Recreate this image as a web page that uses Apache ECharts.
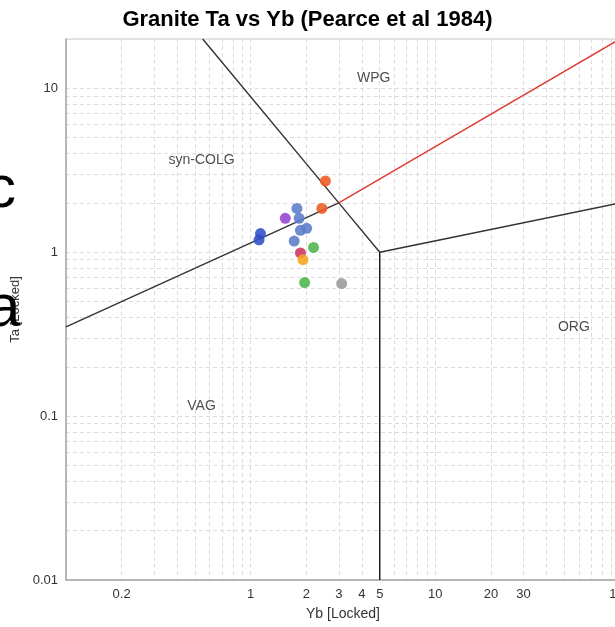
<!DOCTYPE html>
<html>
<head>
<meta charset="utf-8">
<script src="https://cdn.jsdelivr.net/npm/echarts@6/dist/echarts.min.js"></script>
<style>
html,body{margin:0;padding:0;background:#fff;}
#chart{width:615px;height:627px;}
</style>
</head>
<body>
<div id="chart"></div>
<script>
// ---- data ----
const titleText = 'Granite Ta vs Yb (Pearce et al 1984)';
const xName = 'Yb [Locked]';
const yName = 'Ta [Locked]';

const xTickLabels = [0.2, 1, 2, 3, 4, 5, 10, 20, 30, 100];
const yTickLabels = [0.01, 0.1, 1, 10];
const xGridValues = [0.2,0.3,0.4,0.5,0.6,0.7,0.8,0.9,1,2,3,4,5,6,7,8,9,10,20,30,40,50,60,70,80,90,100];
const yGridValues = [0.02,0.03,0.04,0.05,0.06,0.07,0.08,0.09,0.1,0.2,0.3,0.4,0.5,0.6,0.7,0.8,0.9,1,2,3,4,5,6,7,8,9,10,20];

// boundary lines [Yb, Ta]
const lineVAGsynCOLG = [[0.1, 0.35], [3, 2]];
const lineSynCOLGWPG = [[0.55, 20], [3, 2], [5, 1]];
const lineWPGORG = [[5, 1], [100, 2]];
const lineVAGORG = [[5, 1], [5, 0.01]];
const lineRed = [[3, 2], [100, 20]];

// region labels
const regionNames = ['WPG', 'syn-COLG', 'ORG', 'VAG'];
const regionPos = [[4.64, 11.5], [0.542, 3.64], [56.3, 0.348], [0.542, 0.115]];

// samples [Yb, Ta]
const orangeSamples = [[2.54, 2.72], [2.43, 1.85]];
const steelSamples = [[1.78, 1.85], [1.83, 1.61], [1.86, 1.36], [2.01, 1.40], [1.72, 1.17]];
const purpleSamples = [[1.54, 1.61]];
const royalSamples = [[1.13, 1.30], [1.11, 1.19]];
const greenSamples = [[2.19, 1.07], [1.96, 0.653]];
const crimsonSamples = [[1.86, 0.99]];
const amberSamples = [[1.92, 0.90]];
const graySamples = [[3.11, 0.644]];

const chart = echarts.init(document.getElementById('chart'), null, {renderer: 'canvas'});

function boundary(data, color) {
  return {
    type: 'line', data: data, symbol: 'none', silent: true,
    lineStyle: {color: color, width: 1.4}, z: 3, animation: false
  };
}
function samples(data, color) {
  return {
    type: 'scatter', data: data, symbolSize: 11, z: 5,
    itemStyle: {color: color, opacity: 0.88}, animation: false
  };
}

const gridLineStyle = {color: '#dcdcdc', type: [4, 3], width: 1};

chart.setOption({
  backgroundColor: '#ffffff',
  textStyle: {fontFamily: 'Liberation Sans, Arial, sans-serif'},
  title: {
    text: titleText, left: 'center', top: 4,
    textStyle: {fontSize: 22, fontWeight: 'bold', color: '#000', fontFamily: 'Liberation Sans, Arial, sans-serif'}
  },
  grid: {left: 66, right: -5, top: 39, bottom: 47, containLabel: false, outerBoundsMode: 'none',
         show: true, borderColor: '#c8c8c8', borderWidth: 1},
  xAxis: {
    type: 'log', logBase: 10, min: 0.1, max: 100,
    name: xName, nameLocation: 'middle', nameGap: 27,
    nameTextStyle: {fontSize: 14, color: '#333'},
    axisLine: {show: true, lineStyle: {color: '#a8a8a8', width: 1.5}},
    axisTick: {show: false, customValues: xGridValues},
    axisLabel: {customValues: xTickLabels, fontSize: 13, color: '#333', margin: 8,
      formatter: v => String(+(+v).toPrecision(6))},
    splitLine: {show: true, lineStyle: gridLineStyle}
  },
  yAxis: {
    type: 'log', logBase: 10, min: 0.01, max: 20,
    name: yName, nameLocation: 'middle', nameGap: 42,
    nameTextStyle: {fontSize: 13, color: '#333'},
    axisLine: {show: true, lineStyle: {color: '#a8a8a8', width: 1.5}},
    axisTick: {show: false, customValues: yGridValues},
    axisLabel: {customValues: yTickLabels, fontSize: 13, color: '#333', margin: 8,
      formatter: v => String(+(+v).toPrecision(6))},
    splitLine: {show: true, lineStyle: gridLineStyle}
  },
  graphic: [
    {type: 'text', left: -14, top: 160, silent: true, z: 1,
     style: {text: 'c', font: '60px "Liberation Sans", Arial, sans-serif', fill: '#000'}},
    {type: 'text', left: -13, top: 279, silent: true, z: 1,
     style: {text: 'a', font: '60px "Liberation Sans", Arial, sans-serif', fill: '#000'}}
  ],
  series: [
    boundary(lineVAGsynCOLG, '#333'),
    boundary(lineSynCOLGWPG, '#333'),
    boundary(lineWPGORG, '#333'),
    boundary(lineVAGORG, '#111'),
    boundary(lineRed, '#e03a2e'),
    {
      type: 'scatter', symbolSize: 0, silent: true, z: 4,
      data: regionNames.map((n, i) => ({name: n, value: regionPos[i]})),
      label: {show: true, position: 'inside', formatter: p => p.name, fontSize: 14, color: '#222'}
    },
    samples(orangeSamples, '#ee5a22'),
    samples(steelSamples, '#5b7ccb'),
    samples(purpleSamples, '#9542d0'),
    samples(royalSamples, '#2f4fc8'),
    samples(greenSamples, '#4cb54c'),
    samples(crimsonSamples, '#cc3362'),
    samples(amberSamples, '#f6a61c'),
    samples(graySamples, '#9a9a9a')
  ]
});
</script>
</body>
</html>
